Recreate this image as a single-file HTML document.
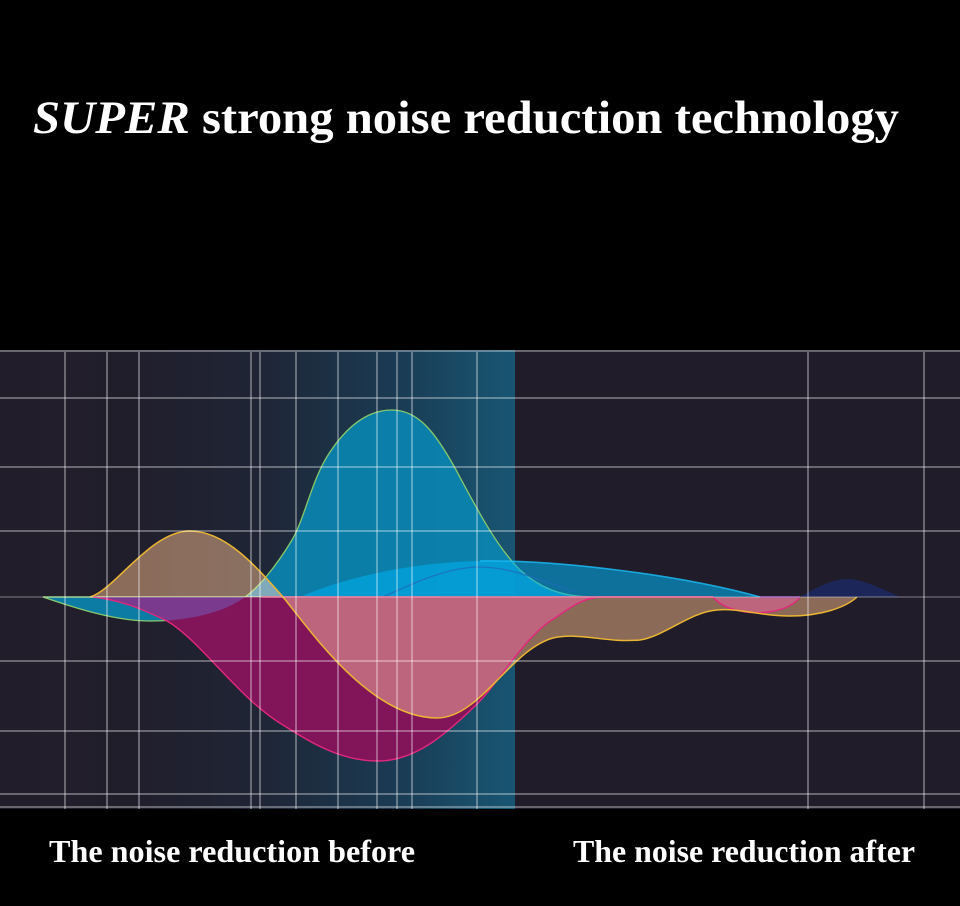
<!DOCTYPE html>
<html>
<head>
<meta charset="utf-8">
<style>
  html,body{margin:0;padding:0;background:#000;}
  body{width:960px;height:906px;overflow:hidden;}
  svg{display:block;}
</style>
</head>
<body>
<svg width="960" height="906" viewBox="0 0 960 906" xmlns="http://www.w3.org/2000/svg">
  <defs>
    <linearGradient id="band" x1="0" y1="0" x2="515" y2="0" gradientUnits="userSpaceOnUse">
      <stop offset="0" stop-color="#221d2a"/>
      <stop offset="0.25" stop-color="#211e2c"/>
      <stop offset="0.5" stop-color="#1f2535"/>
      <stop offset="0.6" stop-color="#1d2d40"/>
      <stop offset="0.78" stop-color="#1a3c55"/>
      <stop offset="0.91" stop-color="#194c67"/>
      <stop offset="1" stop-color="#185572"/>
    </linearGradient>
    <clipPath id="magClip">
      <path d="M93,597 C120,600 140,608 167,621 C200,640 240,700 283,725 C310,742 340,761 378,761 C415,761 445,735 475,706 C500,682 525,635 555,618 C570,608 580,599 600,597 L713,597 C730,618 785,618 800,597 Z"/>
    </clipPath>
  </defs>

  <rect x="0" y="0" width="960" height="906" fill="#000"/>

  <!-- title -->
  <text x="33" y="133" font-family="'Liberation Serif', serif" font-weight="bold" font-size="47" fill="#fff" textLength="866" lengthAdjust="spacingAndGlyphs"><tspan font-style="italic">SUPER</tspan> strong noise reduction technology</text>

  <!-- chart background -->
  <rect x="0" y="350" width="960" height="459" fill="#211c29"/>
  <rect x="0" y="350" width="515" height="459" fill="url(#band)"/>

  <!-- cyan peak with lower lobe -->
  <path d="M43,597 C75,608 115,621 150,621 C190,621 225,612 245,597 C258,588 275,568 292,540 C305,518 312,478 330,452 C348,425 368,410 392,410 C418,410 435,432 455,468 C475,505 495,545 520,570 C540,588 560,596 590,597 Z"
        fill="#0a86b2" fill-opacity="0.9" stroke="#86c96c" stroke-width="1.3"/>

  <!-- wide outer hump -->
  <path d="M300,597 C350,575 420,562 480,561 C560,560 680,575 760,597 Z" fill="#00aff0" fill-opacity="0.58"/>
  <path d="M480,561 C560,560 680,575 760,597" fill="none" stroke="#1ab8f0" stroke-width="1.6" stroke-opacity="0.85"/>
  <!-- inner line hump -->
  <path d="M383,597 C420,580 450,567 480,567 C510,567 540,580 575,592" fill="none" stroke="#1f6cb8" stroke-width="1.3" stroke-opacity="0.8"/>

  <!-- magenta -->
  <path d="M93,597 C120,600 140,608 167,621 C200,640 240,700 283,725 C310,742 340,761 378,761 C415,761 445,735 475,706 C500,682 525,635 555,618 C570,608 580,599 600,597 L713,597 C730,618 785,618 800,597 Z"
        fill="#82145a"/>
  <!-- purple intersection of cyan lobe and magenta -->
  <path clip-path="url(#magClip)" d="M43,597 C75,608 115,621 150,621 C190,621 225,612 245,597 Z" fill="#7a3a8e"/>

  <!-- yellow / brown (screen) -->
  <path d="M90,597 C115,590 150,531 190,531 C225,531 255,565 283,597 C310,630 370,718 437,718 C480,718 510,650 553,638 C580,632 605,643 640,640 C665,636 690,612 717,610 C740,608 760,616 790,616 C820,616 845,608 857,597 Z"
        fill="#7a5838" style="mix-blend-mode:screen"/>

  <!-- magenta stroke -->
  <path d="M93,597 C120,600 140,608 167,621 C200,640 240,700 283,725 C310,742 340,761 378,761 C415,761 445,735 475,706 C500,682 525,635 555,618 C570,608 580,599 600,597 L713,597 C730,618 785,618 800,597"
        fill="none" stroke="#e2287c" stroke-width="1.4"/>
  <line x1="262" y1="597" x2="713" y2="597" stroke="#e8507e" stroke-width="1.6"/>
  <line x1="760" y1="597" x2="800" y2="597" stroke="#8a3aa8" stroke-width="1.4"/>

  <!-- yellow stroke -->
  <path d="M90,597 C115,590 150,531 190,531 C225,531 255,565 283,597 C310,630 370,718 437,718 C480,718 510,650 553,638 C580,632 605,643 640,640 C665,636 690,612 717,610 C740,608 760,616 790,616 C820,616 845,608 857,597"
        fill="none" stroke="#eab532" stroke-width="1.5"/>

  <!-- navy hump -->
  <path d="M800,597 C820,585 835,579 848,579 C862,579 880,588 900,597 Z" fill="#1c2a6a" fill-opacity="0.75"/>

  <!-- grid -->
  <g stroke="#ffffff" stroke-opacity="0.33" stroke-width="2">
    <line x1="0" y1="351" x2="960" y2="351"/>
    <line x1="0" y1="398" x2="960" y2="398"/>
    <line x1="0" y1="467" x2="960" y2="467"/>
    <line x1="0" y1="531" x2="960" y2="531"/>
    <line x1="0" y1="597" x2="960" y2="597" stroke-opacity="0.22"/>
    <line x1="0" y1="661" x2="960" y2="661"/>
    <line x1="0" y1="731" x2="960" y2="731"/>
    <line x1="0" y1="794" x2="960" y2="794"/>
    <line x1="0" y1="807" x2="960" y2="807"/>
    <line x1="65" y1="352" x2="65" y2="809"/>
    <line x1="107" y1="352" x2="107" y2="809"/>
    <line x1="139" y1="352" x2="139" y2="809"/>
    <line x1="251" y1="352" x2="251" y2="809"/>
    <line x1="260" y1="352" x2="260" y2="809"/>
    <line x1="296" y1="352" x2="296" y2="809"/>
    <line x1="338" y1="352" x2="338" y2="809"/>
    <line x1="377" y1="352" x2="377" y2="809"/>
    <line x1="397" y1="352" x2="397" y2="809"/>
    <line x1="412" y1="352" x2="412" y2="809"/>
    <line x1="477" y1="352" x2="477" y2="809"/>
    <line x1="808" y1="352" x2="808" y2="809"/>
    <line x1="924" y1="352" x2="924" y2="809"/>
  </g>

  <!-- bottom labels -->
  <text x="49" y="862" font-family="'Liberation Serif', serif" font-weight="bold" font-size="32" fill="#fff" textLength="366" lengthAdjust="spacingAndGlyphs">The noise reduction before</text>
  <text x="573" y="862" font-family="'Liberation Serif', serif" font-weight="bold" font-size="32" fill="#fff" textLength="342" lengthAdjust="spacingAndGlyphs">The noise reduction after</text>
</svg>
</body>
</html>
